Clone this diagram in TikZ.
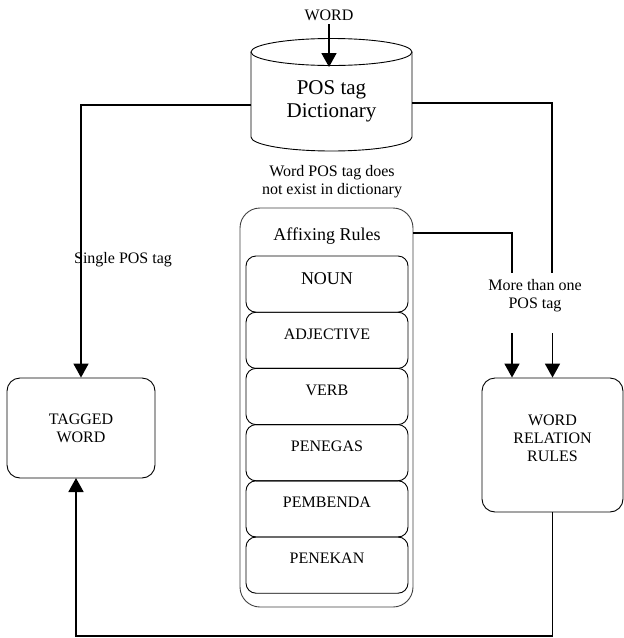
\documentclass[tikz,border=0pt]{standalone}
\usepackage{fontspec}
\setmainfont{Liberation Serif}
\usetikzlibrary{arrows.meta}
\begin{document}
\begin{tikzpicture}[x=1pt,y=-1pt,
  flow/.style={line width=1.8pt},
  arr/.style={flow,-{Triangle[width=15pt,length=14pt]}},
  box/.style={draw,line width=0.9pt,rounded corners=13pt,inner sep=0pt},
  rulebox/.style={draw,line width=0.9pt,rounded corners=10pt,minimum width=162pt,minimum height=56.2pt,inner sep=0pt},
  lbl/.style={font=\fontsize{16}{18}\selectfont,align=center,inner sep=0pt},
  ttl/.style={font=\fontsize{18}{20}\selectfont,align=center,inner sep=0pt},
]
\useasboundingbox (0,0) rectangle (624,638);

% dictionary drum
\node[minimum width=161pt,minimum height=85pt,inner sep=0pt] (dict) at (331.5,94.5) {};
\draw[line width=0.9pt] (251,52) -- (251,137)
  arc[start angle=180,end angle=360,x radius=80.5pt,y radius=14pt] -- (412,52);
\draw[line width=0.9pt] (331.5,52) ellipse [x radius=80.5pt,y radius=13.5pt];
\node[font=\fontsize{21}{23}\selectfont,align=center,inner sep=0pt] (dictlbl) at (331.5,101.5) {POS tag\\Dictionary};

% input word
\node[lbl] (word) at (329,15) {WORD};
\coordinate (wordin) at (329,67);
\draw[arr] (329,24) -- (wordin);

\node[lbl] (notexist) at (332,182) {Word POS tag does\\not exist in dictionary};

% affixing rules stack
\node[draw=black!75,line width=0.9pt,rounded corners=20pt,minimum width=173pt,minimum height=399pt,inner sep=0pt] (affix) at (326.5,407.5) {};
\node[ttl] (affixlbl) at (327,236) {Affixing Rules};
\foreach \name/\txt [count=\i from 0] in {noun/NOUN,adj/ADJECTIVE,verb/VERB,penegas/PENEGAS,pembenda/PEMBENDA,penekan/PENEKAN}{
  \node[rulebox] (\name) at (327,284.1+56.2*\i) {};
}
\node[ttl] (nounlbl) at (327,279) {NOUN};
\node[lbl] (adjlbl) at (327,334) {ADJECTIVE};
\node[lbl] (verblbl) at (327,390) {VERB};
\node[lbl] (penegaslbl) at (327,446) {PENEGAS};
\node[lbl] (pembendalbl) at (327,502) {PEMBENDA};
\node[lbl] (penekanlbl) at (327,558) {PENEKAN};

% outcome boxes
\node[box,minimum width=148pt,minimum height=100pt] (tagged) at (81,428) {};
\node[lbl] (taggedlbl) at (81,428) {TAGGED\\WORD};
\node[box,minimum width=141pt,minimum height=134pt] (wr) at (552.5,445) {};
\node[lbl] (wrlbl) at (552.5,438) {WORD\\RELATION\\RULES};

% branch labels
\node[lbl] (single) at (123,260) {Single POS tag};
\node[lbl] (multi) at (535,296) {More than one\\POS tag};

% connectors
\coordinate (dl) at (251,105);
\coordinate (dr) at (412,103);
\coordinate (rt) at (552,273);
\coordinate (al) at (413,233);
\coordinate (mt) at (512,273);
\coordinate (a1) at (512,333);
\coordinate (a2) at (552.5,333);
\coordinate (bot) at (552.5,636);
\coordinate (tin) at (76,478);

\draw[arr] (dl) -| (tagged.north);
\draw[flow] (dr) -| (rt);
\draw[flow] (al) -| (mt);
\draw[arr] (a1) -- (a1 |- wr.north);
\draw[arr] (a2) -- (wr.north);
\draw[arr] (wr.south) -- (bot) -| (tin);
\end{tikzpicture}
\end{document}
